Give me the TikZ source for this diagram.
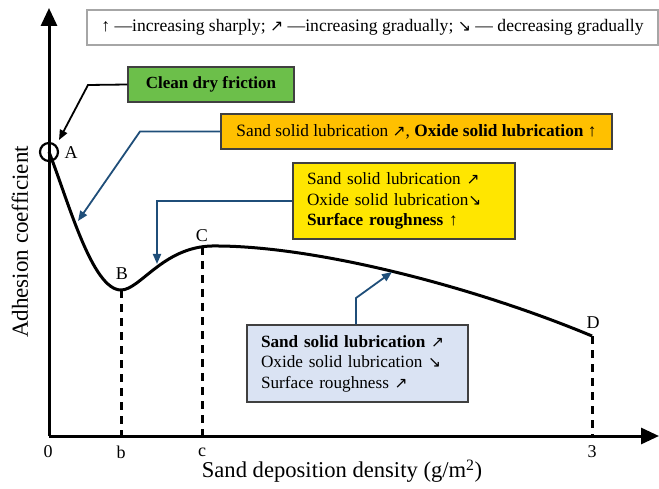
\documentclass[tikz,border=0pt]{standalone}
\usepackage{fontspec}
\usepackage{graphicx}
\setmainfont{Liberation Serif}
\newfontfamily\symf{DejaVu Sans}
\usetikzlibrary{arrows.meta}
\newcommand{\arrNE}{{\symf\scalebox{0.9}{↗}}}
\newcommand{\arrSE}{{\symf\scalebox{0.9}{↘}}}
\definecolor{cgreen}{HTML}{6CBF4A}
\definecolor{corange}{HTML}{FFC000}
\definecolor{cyellow}{HTML}{FFE600}
\definecolor{cblue}{HTML}{DAE3F3}
\definecolor{cline}{HTML}{1F4E79}
\tikzset{
  boxbase/.style={draw=black!75, line width=1.2pt, inner sep=0pt},
  lbl/.style={inner sep=0pt, font=\fontsize{18}{21}\selectfont},
  axis/.style={line width=3pt, -{Triangle[length=18pt,width=16pt]}},
  guide/.style={line width=3pt, dash pattern=on 8pt off 6pt},
  conn/.style={line width=1.8pt, draw=cline, -{Triangle[length=10pt,width=8pt]}},
  connk/.style={line width=1.8pt, draw=black, -{Triangle[length=10pt,width=8pt]}},
}
\begin{document}
\begin{tikzpicture}[x=1pt,y=-1pt]
\useasboundingbox (0,0) rectangle (659,489);
% legend
\node[boxbase, draw=black!35, minimum width=571pt, minimum height=35pt,
      font=\fontsize{17.6}{20}\selectfont] (legend) at (372.5,27.5)
  {↑ —increasing sharply; \arrNE\ —increasing gradually; \arrSE\ — decreasing gradually};
% axes
\coordinate (O) at (49,436);
\coordinate (ytop) at (49,8);
\coordinate (xend) at (659,436);
\draw[axis] (O) -- (ytop);
\draw[axis] (O) -- (xend);
\node[rotate=90, font=\fontsize{23}{26}\selectfont, inner sep=0pt] (ylab) at (20,242) {Adhesion coefficient};
\node[font=\fontsize{22.6}{26}\selectfont, inner sep=0pt] (xlab) at (342,471) {Sand deposition density (g/m\textsuperscript{2})};
% curve
\coordinate (A) at (49,152);
\coordinate (B) at (121,290);
\coordinate (Cpk) at (212,246);
\coordinate (D) at (592,336);
\coordinate (Cc) at (202,247);
\draw[line width=3pt] (A) .. controls (68,200) and (92,290) .. (B)
  .. controls (140,290) and (163,247) .. (Cpk)
  .. controls (310,245) and (470,285) .. (D);
\draw[line width=2.2pt] (A) circle (9pt);
% guides
\coordinate (Bb) at (121,436);
\coordinate (Cb) at (202,436);
\coordinate (Db) at (592,436);
\draw[guide] (B) -- (Bb);
\draw[guide] (Cc) -- (Cb);
\draw[guide] (D) -- (Db);
% point labels
\node[lbl] (lA) at (71,153) {A};
\node[lbl] (lB) at (122,274) {B};
\node[lbl] (lC) at (202,236) {C};
\node[lbl] (lD) at (593,323) {D};
\node[lbl] (t0) at (48,452) {0};
\node[lbl] (tb) at (121,452) {b};
\node[lbl] (tc) at (202,452) {c};
\node[lbl] (t3) at (592,452) {3};
% boxes
\node[boxbase, fill=cgreen, minimum width=166pt, minimum height=35pt,
      font=\fontsize{17}{20}\selectfont\bfseries] (green) at (211,84.5) {Clean dry friction};
\node[boxbase, fill=corange, minimum width=391pt, minimum height=35pt,
      font=\fontsize{17.3}{20}\selectfont] (orange) at (416.5,131.5)
  {Sand solid lubrication \arrNE, \textbf{Oxide solid lubrication ↑}};
\node[boxbase, fill=cyellow, text width=194pt, inner xsep=14pt, minimum height=76pt,
      align=left, font=\fontsize{17.2}{20.5}\selectfont] (yellow) at (404,201)
  {Sand solid lubrication \arrNE\\Oxide solid lubrication\arrSE\\\textbf{Surface roughness ↑}};
\node[boxbase, fill=cblue, text width=193pt, inner xsep=14pt, minimum height=77pt,
      align=left, font=\fontsize{17.2}{20.5}\selectfont] (blue) at (357.5,363.5)
  {\textbf{Sand solid lubrication} \arrNE\\Oxide solid lubrication \arrSE\\Surface roughness \arrNE};
% connectors
\coordinate (kg) at (88,85);
\coordinate (kA) at (59,140);
\draw[connk] (green.west) -- (kg) -- (kA);
\coordinate (ko) at (140,131.5);
\coordinate (kAB) at (78,221);
\draw[conn] (orange.west) -- (ko) -- (kAB);
\coordinate (ky) at (157,201);
\coordinate (kBC) at (157,264);
\draw[conn] (yellow.west) -- (ky) -- (kBC);
\coordinate (kb) at (356,298);
\coordinate (kCD) at (392,272);
\draw[conn] (blue.north -| kb) -- (kb) -- (kCD);
\end{tikzpicture}
\end{document}
